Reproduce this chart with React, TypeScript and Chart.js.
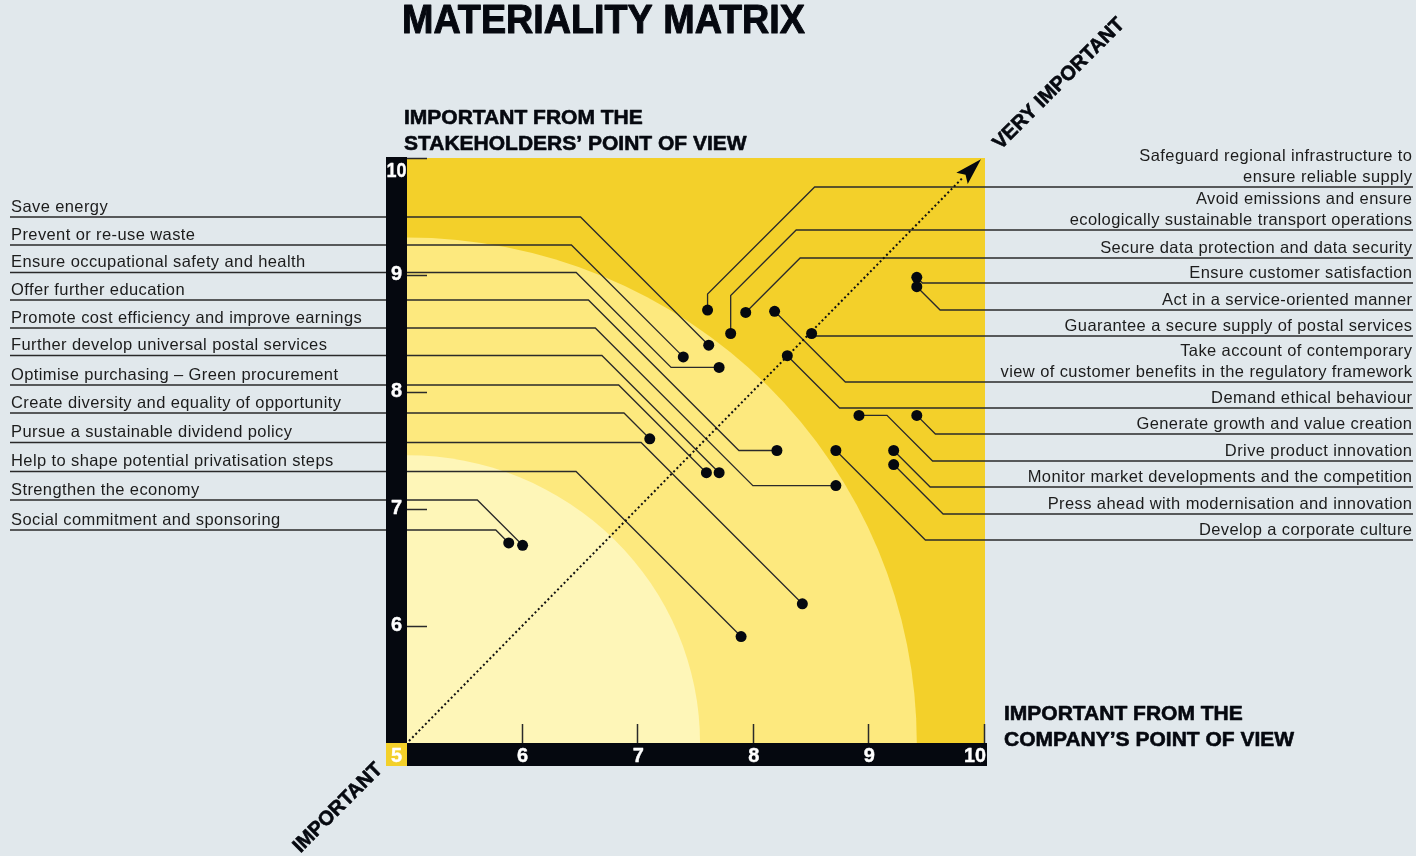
import { useEffect, useRef } from 'react';
import { Chart, registerables } from 'chart.js';

Chart.register(...registerables);

// ---------- DATA ----------
const leftLabels = [
  'Save energy',
  'Prevent or re-use waste',
  'Ensure occupational safety and health',
  'Offer further education',
  'Promote cost efficiency and improve earnings',
  'Further develop universal postal services',
  'Optimise purchasing – Green procurement',
  'Create diversity and equality of opportunity',
  'Pursue a sustainable dividend policy',
  'Help to shape potential privatisation steps',
  'Strengthen the economy',
  'Social commitment and sponsoring',
];
const leftCompany = [7.61, 7.39, 7.70, 8.20, 8.71, 7.70, 7.59, 7.10, 8.42, 7.89, 6.00, 5.88];
const leftStakeholders = [8.40, 8.30, 8.21, 7.50, 7.20, 7.31, 7.31, 7.60, 6.19, 5.91, 6.69, 6.71];

const rightLabels = [
  'Safeguard regional infrastructure to\nensure reliable supply',
  'Avoid emissions and ensure\necologically sustainable transport operations',
  'Secure data protection and data security',
  'Ensure customer satisfaction',
  'Act in a service-oriented manner',
  'Guarantee a secure supply of postal services',
  'Take account of contemporary\nview of customer benefits in the regulatory framework',
  'Demand ethical behaviour',
  'Generate growth and value creation',
  'Drive product innovation',
  'Monitor market developments and the competition',
  'Press ahead with modernisation and innovation',
  'Develop a corporate culture',
];
const rightCompany = [7.60, 7.80, 7.93, 9.41, 9.41, 8.50, 8.18, 8.29, 9.41, 8.91, 9.21, 9.21, 8.71];
const rightStakeholders = [8.70, 8.50, 8.68, 8.98, 8.90, 8.50, 8.69, 8.31, 7.80, 7.80, 7.50, 7.38, 7.50];

const tickValues = [5, 6, 7, 8, 9, 10];
const tickLabels = ['5', '6', '7', '8', '9', '10'];
const bandRadiiX = [4.41, 2.535];
const bandRadiiY = [4.32, 2.46];

const titleText = 'MATERIALITY MATRIX';
const yTitle = ['IMPORTANT FROM THE', 'STAKEHOLDERS’ POINT OF VIEW'];
const xTitle = ['IMPORTANT FROM THE', 'COMPANY’S POINT OF VIEW'];
const highText = 'VERY IMPORTANT';
const lowText = 'IMPORTANT';

// ---------- LAYOUT / STYLE ----------
const W = 1416;
const H = 856;
const BG = '#E1E8EC';
const C_DARK = '#F3D02A';
const C_MID = '#FDE97E';
const C_LIGHT = '#FEF6B8';
const bandColors = [C_MID, C_LIGHT];
const INK = '#05080F';
const LINE = '#2A2A2A';
const FONT = '"Liberation Sans", Arial, sans-serif';

const leftLineY = [217, 245, 272.5, 300, 328, 355.5, 385, 413, 442.5, 471.5, 500, 530];
const leftElbowH = [0, 0, 48, 38, 83, 0, 0, 0, 0, 0, 0, 0];
const rightLineY = [187, 230, 258, 283, 310, 336, 382, 408, 434, 461, 487, 514, 540];
const rightElbowH = [0, 0, 0, 0, 0, 0, 0, 0, 0, 28, 0, 0, 0];
const rightElbowV = [16, 38, 0, 0, 0, 0, 0, 0, 0, 0, 0, 0, 0];

function boldText(ctx: any, t: string, x: number, y: number, sw: number, maxW?: number) {
  ctx.lineWidth = sw;
  ctx.strokeStyle = ctx.fillStyle;
  ctx.lineJoin = 'round';
  if (maxW) {
    ctx.strokeText(t, x, y, maxW);
    ctx.fillText(t, x, y, maxW);
  } else {
    ctx.strokeText(t, x, y);
    ctx.fillText(t, x, y);
  }
}

const matrixPlugin = {
  id: 'matrix',
  beforeDraw(chart: any) {
    const ctx = chart.ctx;
    ctx.save();
    ctx.fillStyle = BG;
    ctx.fillRect(0, 0, W, H);
    ctx.restore();
  },
  beforeDatasetsDraw(chart: any) {
    const { ctx, chartArea: a } = chart;
    const xs = chart.scales.x;
    const ys = chart.scales.y;
    ctx.save();
    // bands
    ctx.fillStyle = C_DARK;
    ctx.fillRect(a.left, a.top, a.right - a.left, a.bottom - a.top);
    ctx.save();
    ctx.beginPath();
    ctx.rect(a.left, a.top, a.right - a.left, a.bottom - a.top);
    ctx.clip();
    const cx = xs.getPixelForValue(5);
    const cy = ys.getPixelForValue(5);
    bandRadiiX.forEach((r, i) => {
      const rx = xs.getPixelForValue(5 + r) - cx;
      const ry = cy - ys.getPixelForValue(5 + bandRadiiY[i]);
      ctx.beginPath();
      ctx.ellipse(cx, cy, rx, ry, 0, 0, Math.PI * 2);
      ctx.fillStyle = bandColors[i];
      ctx.fill();
    });
    ctx.restore();

    // ticks inside plot
    ctx.strokeStyle = '#2A2A2A';
    ctx.lineWidth = 1.5;
    tickValues.forEach((v) => {
      if (v === 5) return;
      const py = Math.round(ys.getPixelForValue(v)) + 0.5;
      ctx.beginPath();
      ctx.moveTo(a.left, py);
      ctx.lineTo(a.left + 20, py);
      ctx.stroke();
      const px = Math.round(xs.getPixelForValue(v)) - 0.5;
      ctx.beginPath();
      ctx.moveTo(px, a.bottom);
      ctx.lineTo(px, a.bottom - 19);
      ctx.stroke();
    });

    // leader lines
    ctx.strokeStyle = LINE;
    ctx.lineWidth = 1.3;
    ctx.lineJoin = 'miter';
    leftLabels.forEach((_, i) => {
      const px = xs.getPixelForValue(leftCompany[i]);
      const py = ys.getPixelForValue(leftStakeholders[i]);
      const ly = leftLineY[i];
      const prex = px - leftElbowH[i];
      const prey = py;
      const bendX = prex - Math.abs(prey - ly);
      ctx.beginPath();
      ctx.moveTo(10, ly);
      ctx.lineTo(bendX, ly);
      ctx.lineTo(prex, prey);
      ctx.lineTo(px, py);
      ctx.stroke();
    });
    rightLabels.forEach((_, i) => {
      const px = xs.getPixelForValue(rightCompany[i]);
      const py = ys.getPixelForValue(rightStakeholders[i]);
      const ly = rightLineY[i];
      const prex = px + rightElbowH[i];
      const prey = py - rightElbowV[i];
      const bendX = prex + Math.abs(ly - prey);
      ctx.beginPath();
      ctx.moveTo(1413, ly);
      ctx.lineTo(bendX, ly);
      ctx.lineTo(prex, prey);
      ctx.lineTo(px, py);
      ctx.stroke();
    });

    // dotted diagonal arrow
    const sx = xs.getPixelForValue(5) + 2;
    const sy = ys.getPixelForValue(5) - 2;
    const tx = xs.getPixelForValue(9.965);
    const ty = ys.getPixelForValue(9.99);
    const ang = Math.atan2(ty - sy, tx - sx);
    const headLen = 27;
    const bx = tx - headLen * Math.cos(ang);
    const by = ty - headLen * Math.sin(ang);
    ctx.strokeStyle = '#111';
    ctx.lineWidth = 2;
    ctx.setLineDash([2, 2.6]);
    ctx.beginPath();
    ctx.moveTo(sx, sy);
    ctx.lineTo(bx, by);
    ctx.stroke();
    ctx.setLineDash([]);
    const hw = 8;
    ctx.fillStyle = INK;
    ctx.beginPath();
    ctx.moveTo(tx, ty);
    ctx.lineTo(bx + hw * Math.sin(ang), by - hw * Math.cos(ang));
    ctx.lineTo(bx + 5 * Math.cos(ang), by + 5 * Math.sin(ang));
    ctx.lineTo(bx - hw * Math.sin(ang), by + hw * Math.cos(ang));
    ctx.closePath();
    ctx.fill();
    ctx.restore();
  },
  afterDatasetsDraw(chart: any) {
    const { ctx, chartArea: a } = chart;
    const xs = chart.scales.x;
    const ys = chart.scales.y;
    ctx.save();
    // axis bars
    ctx.fillStyle = INK;
    ctx.fillRect(a.left - 21, a.top - 1, 21, a.bottom - a.top + 24);
    ctx.fillRect(a.left, a.bottom, a.right - a.left + 2, 23);
    ctx.fillStyle = C_DARK;
    ctx.fillRect(a.left - 21, a.bottom, 21, 23);

    // tick labels
    ctx.fillStyle = '#FFFFFF';
    ctx.font = `bold 20px ${FONT}`;
    ctx.textAlign = 'center';
    ctx.textBaseline = 'alphabetic';
    tickValues.forEach((v, i) => {
      if (v === 5) {
        ctx.textAlign = 'center';
        boldText(ctx, tickLabels[i], a.left - 10.5, a.bottom + 19, 0.4, 19);
        return;
      }
      const py = ys.getPixelForValue(v);
      const yb = v === 10 ? a.top + 19 : py + 5;
      ctx.textAlign = 'center';
      boldText(ctx, tickLabels[i], a.left - 10.5, yb, 0.4, 20);
      const px = xs.getPixelForValue(v);
      if (v === 10) {
        ctx.textAlign = 'right';
        boldText(ctx, tickLabels[i], a.right + 1, a.bottom + 19, 0.4, 22);
      } else {
        ctx.textAlign = 'center';
        boldText(ctx, tickLabels[i], px, a.bottom + 19, 0.4);
      }
    });

    // titles
    ctx.fillStyle = INK;
    ctx.textAlign = 'left';
    ctx.font = `bold 40px ${FONT}`;
    boldText(ctx, titleText, 402, 33, 1.0, 403);
    ctx.font = `bold 21px ${FONT}`;
    boldText(ctx, yTitle[0], 404, 123.5, 0.6);
    boldText(ctx, yTitle[1], 404, 149.5, 0.6);
    boldText(ctx, xTitle[0], 1004, 719.5, 0.6);
    boldText(ctx, xTitle[1], 1004, 745.5, 0.6);

    // diagonal texts
    ctx.font = `bold 20px ${FONT}`;
    ctx.textAlign = 'center';
    ctx.textBaseline = 'middle';
    ctx.save();
    ctx.translate(1059, 84);
    ctx.rotate(-Math.PI / 4);
    boldText(ctx, highText, 0, 0, 0.6);
    ctx.restore();
    ctx.save();
    ctx.translate(338, 808);
    ctx.rotate(-Math.PI / 4);
    boldText(ctx, lowText, 0, 0, 0.6);
    ctx.restore();

    // labels
    ctx.textBaseline = 'alphabetic';
    ctx.fillStyle = '#1C1C1C';
    ctx.font = `16.5px ${FONT}`;
    (ctx as any).letterSpacing = '0.4px';
    ctx.textAlign = 'left';
    leftLabels.forEach((t, i) => {
      ctx.fillText(t, 11, leftLineY[i] - 5.5);
    });
    ctx.textAlign = 'right';
    rightLabels.forEach((t, i) => {
      const lines = t.split('\n');
      lines.forEach((ln, j) => {
        const yb = rightLineY[i] - 5 - (lines.length - 1 - j) * 21;
        ctx.fillText(ln, 1412.4, yb);
      });
    });
    (ctx as any).letterSpacing = '0px';
    ctx.restore();
  },
};

export default function App() {
  const ref = useRef<HTMLCanvasElement | null>(null);
  useEffect(() => {
    if (!ref.current) return;
    const pts = [
      ...leftCompany.map((x, i) => ({ x, y: leftStakeholders[i] })),
      ...rightCompany.map((x, i) => ({ x, y: rightStakeholders[i] })),
    ];
    const chart = new Chart(ref.current, {
      type: 'scatter',
      data: {
        datasets: [
          {
            data: pts,
            pointRadius: 5.5,
            pointHoverRadius: 5.5,
            backgroundColor: INK,
            borderWidth: 0,
          },
        ],
      },
      options: {
        animation: false,
        responsive: false,
        devicePixelRatio: 1,
        layout: { padding: { left: 407, right: 431, top: 158, bottom: 113 } },
        scales: {
          x: { type: 'linear', min: 5, max: 10, display: false },
          y: { type: 'linear', min: 5, max: 10, display: false },
        },
        plugins: { legend: { display: false }, tooltip: { enabled: false } },
      },
      plugins: [matrixPlugin],
    } as any);
    return () => chart.destroy();
  }, []);
  return (
    <div style={{ position: 'fixed', left: 0, top: 0, width: W, height: H, background: BG }}>
      <canvas ref={ref} width={W} height={H} style={{ display: 'block' }} />
    </div>
  );
}
